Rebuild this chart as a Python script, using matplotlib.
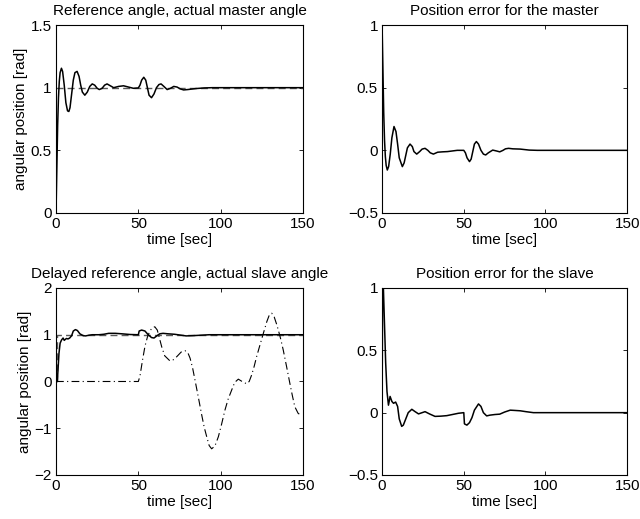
import matplotlib
matplotlib.use("Agg")
import matplotlib.pyplot as plt

plt.rcParams["font.family"] = ["Liberation Sans", "DejaVu Sans"]
plt.rcParams["font.size"] = 11
plt.rcParams["axes.linewidth"] = 0.8

# Master: reference step and measured angle [rad] vs time [sec]
master_ref_t = [0, 150]
master_ref_y = [1, 1]
master_t = [0, 0.5, 1, 1.5, 2, 2.5, 3.3, 4, 5, 6, 7, 7.8, 8.5, 9.5, 10.5, 11.5,
            12.8, 14, 15, 16, 17.5, 19, 20.5, 22, 23.5, 25, 26.3, 28, 29.5, 31,
            33, 35, 38, 41, 44, 47, 50, 51, 52, 53.3, 54.5, 55.5, 56.5, 58,
            59.5, 61, 62.5, 63.8, 65.5, 67.5, 69.5, 71.5, 73.5, 75.5, 77.5,
            80, 85, 90, 95, 150]
master_y = [0, 0.35, 0.7, 0.92, 1.05, 1.12, 1.155, 1.13, 1.02, 0.88, 0.815,
            0.81, 0.84, 0.95, 1.06, 1.12, 1.13, 1.09, 1.02, 0.965, 0.94, 0.965,
            1.01, 1.03, 1.02, 0.995, 0.985, 0.995, 1.02, 1.03, 1.015, 1.0,
            1.01, 1.015, 1.005, 0.995, 0.998, 1.02, 1.06, 1.083, 1.06, 1.0,
            0.94, 0.92, 0.95, 1.0, 1.025, 1.03, 1.01, 0.985, 0.995, 1.01,
            1.005, 0.99, 0.982, 0.985, 0.993, 0.998, 1.0, 1.0]

# Master position error
master_err_t = [0, 0.5, 1, 1.5, 2, 2.5, 3.2, 4, 5, 6, 7.3, 8.5, 9.5, 10.5,
                12.4, 13.5, 14.5, 15.5, 17.1, 18.5, 19.5, 21.2, 23, 24.5,
                26.3, 28, 29.5, 31.4, 34, 37, 40, 43, 46, 50, 51, 52, 53.5,
                54.5, 55.5, 56.5, 57.7, 59, 60.5, 62, 63.4, 65, 67.7, 70, 72,
                74, 75.5, 77.4, 80, 84.5, 90, 95, 150]
master_err_y = [1.0, 0.65, 0.3, 0.08, -0.05, -0.12, -0.157, -0.13, -0.03, 0.1,
                0.19, 0.15, 0.05, -0.06, -0.13, -0.1, -0.04, 0.02, 0.05, 0.03,
                -0.01, -0.03, -0.01, 0.01, 0.016, 0.0, -0.02, -0.03, -0.015,
                -0.012, -0.01, -0.005, 0.0, 0.0, -0.02, -0.06, -0.09, -0.07,
                -0.01, 0.05, 0.07, 0.05, 0.0, -0.03, -0.037, -0.02, 0.002,
                -0.005, -0.012, 0.0, 0.012, 0.016, 0.012, 0.01, 0.002, 0.0, 0.0]

# Slave: delayed reference, measured slave angle and master angle signal
slave_ref_t = [0, 0.5, 0.5, 150]
slave_ref_y = [0, 0, 1, 1]
slave_t = [0, 0.8, 1.3, 1.8, 2.5, 3.4, 4.3, 5, 6.3, 7.3, 8.3, 9.5, 10.5,
           11.8, 13, 14.5, 16.5, 18, 20, 22, 26, 29, 32, 36, 40, 45, 50,
           50.5, 52, 54, 56, 58, 59.5, 61, 63, 65, 68, 72, 76, 79, 83, 88,
           93, 150]
slave_y = [0, 0, 0.3, 0.6, 0.82, 0.89, 0.93, 0.88, 0.92, 0.91, 0.93, 0.98,
           1.08, 1.11, 1.09, 1.02, 0.98, 0.975, 0.99, 1.0, 1.0, 1.01, 1.03,
           1.03, 1.02, 1.005, 1.0, 1.08, 1.1, 1.08, 1.0, 0.94, 0.93, 0.97,
           1.02, 1.03, 1.02, 1.01, 0.99, 0.975, 0.98, 0.99, 1.0, 1.0]
signal_t = [0, 50, 51, 52.5, 54, 55.5, 57, 58.5, 60, 61.5, 63, 64.2, 66,
            69.2, 71, 73.3, 76, 78.3, 80, 81.4, 83, 84.4, 86.5, 88.5, 90,
            91.5, 93, 94.5, 96.5, 98.6, 100.5, 102.6, 104.5, 106.7, 108.5,
            110.7, 113, 115.8, 117.3, 118.8, 120.3, 121.8, 124, 125.9, 128,
            129.5, 131, 132.5, 134, 135, 136.5, 138, 140, 142, 143.5, 145,
            147, 149]
signal_y = [0, 0, 0.12, 0.45, 0.75, 0.95, 1.08, 1.15, 1.17, 1.1, 0.9, 0.74,
            0.55, 0.44, 0.46, 0.53, 0.63, 0.66, 0.62, 0.5, 0.28, 0.03, -0.35,
            -0.72, -0.98, -1.18, -1.37, -1.44, -1.38, -1.18, -0.92, -0.61,
            -0.38, -0.18, -0.02, 0.05, 0.0, -0.05, 0.0, 0.14, 0.32, 0.53, 0.8,
            1.03, 1.28, 1.42, 1.46, 1.38, 1.22, 1.1, 0.9, 0.67, 0.32, -0.04,
            -0.3, -0.54, -0.68, -0.73]

# Slave position error
slave_err_t = [0, 0.3, 0.8, 1.5, 2.2, 3, 3.9, 4.9, 6, 7, 8.3, 9.5, 10.5, 12,
               13, 14.5, 16, 18.2, 20, 22.3, 26.3, 29, 32.4, 36, 39.6, 43,
               46.7, 50, 50.4, 51.9, 53.5, 55, 56.5, 59, 60.5, 62, 64, 66,
               69, 72, 75, 78.4, 81, 84.5, 88, 92.6, 150]
slave_err_y = [0, 1.0, 1.0, 0.7, 0.4, 0.17, 0.06, 0.13, 0.09, 0.075, 0.085,
               0.05, -0.05, -0.11, -0.1, -0.05, 0.0, 0.027, 0.01, -0.01, 0.008,
               -0.01, -0.03, -0.028, -0.024, -0.015, -0.005, 0.0, -0.09, -0.1,
               -0.08, -0.04, 0.02, 0.07, 0.05, 0.0, -0.026, -0.02, -0.015,
               -0.012, 0.005, 0.02, 0.018, 0.015, 0.008, 0.0, 0.0]

fig = plt.figure(figsize=(6.4, 5.19), dpi=100)
ax_ml = fig.add_axes([0.0875, 0.5896, 0.386, 0.3622])
ax_mr = fig.add_axes([0.597, 0.5896, 0.383, 0.3622])
ax_sl = fig.add_axes([0.0875, 0.0848, 0.386, 0.3603])
ax_sr = fig.add_axes([0.597, 0.0848, 0.383, 0.3603])

for ax in (ax_ml, ax_mr, ax_sl, ax_sr):
    ax.set_xlim(0, 150)
    ax.set_xticks([0, 50, 100, 150])
    ax.tick_params(direction="in", length=3, width=0.6, top=True, right=True,
                   labelsize=11, pad=3)
    ax.set_xlabel("time [sec]", fontsize=11, labelpad=1)

ax_ml.plot(master_ref_t, master_ref_y, color="0.35", lw=1.0, ls=(0, (5, 3)))
ax_ml.plot(master_t, master_y, color="black", lw=1.1)
ax_ml.set_ylim(0, 1.5)
ax_ml.set_yticks([0, 0.5, 1, 1.5])
ax_ml.set_yticklabels(["0", "0.5", "1", "1.5"])
ax_ml.set_ylabel("angular position [rad]", fontsize=11, labelpad=2)
ax_ml.set_title("Reference angle, actual master angle", fontsize=11, pad=7)

ax_mr.plot(master_err_t, master_err_y, color="black", lw=1.1)
ax_mr.set_ylim(-0.5, 1)
ax_mr.set_yticks([-0.5, 0, 0.5, 1])
ax_mr.set_yticklabels(["\u22120.5", "0", "0.5", "1"])
ax_mr.set_title("Position error for the master", fontsize=11, pad=7)

ax_sl.plot(slave_ref_t, slave_ref_y, color="0.35", lw=1.0, ls=(0, (5, 3)))
ax_sl.plot(signal_t, signal_y, color="black", lw=0.8, ls=(0, (7, 3, 1, 3)))
ax_sl.plot(slave_t, slave_y, color="black", lw=1.1)
ax_sl.set_ylim(-2, 2)
ax_sl.set_yticks([-2, -1, 0, 1, 2])
ax_sl.set_yticklabels(["\u22122", "\u22121", "0", "1", "2"])
ax_sl.set_ylabel("angular position [rad]", fontsize=11, labelpad=2)
ax_sl.set_title("Delayed reference angle, actual slave angle", fontsize=11, pad=7)

ax_sr.plot(slave_err_t, slave_err_y, color="black", lw=1.1)
ax_sr.set_ylim(-0.5, 1)
ax_sr.set_yticks([-0.5, 0, 0.5, 1])
ax_sr.set_yticklabels(["\u22120.5", "0", "0.5", "1"])
ax_sr.set_title("Position error for the slave", fontsize=11, pad=7)

fig.savefig("out.png", dpi=100)
